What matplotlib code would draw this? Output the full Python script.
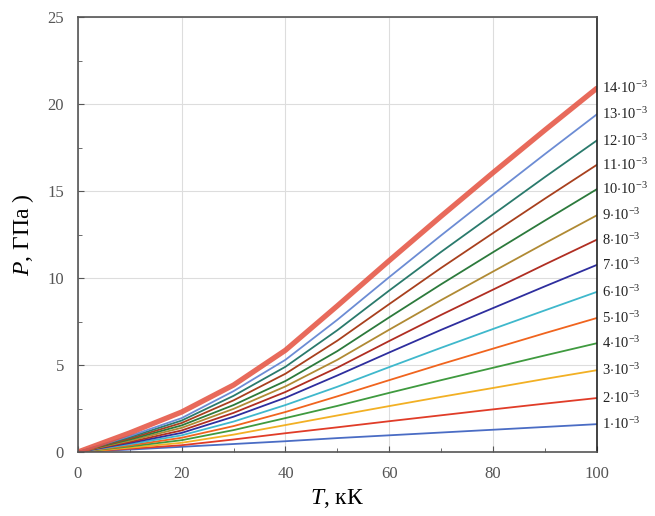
import matplotlib
matplotlib.use("Agg")
import matplotlib.pyplot as plt
from matplotlib.ticker import MultipleLocator

plt.rcParams['font.family'] = ['Liberation Serif', 'DejaVu Serif']
plt.rcParams['mathtext.fontset'] = 'custom'
plt.rcParams['mathtext.rm'] = 'Liberation Serif'
plt.rcParams['mathtext.it'] = 'Liberation Serif:italic'

# температура, кК
T = [0, 10, 20, 30, 40, 50, 60, 70, 80, 90, 100]

# давление, ГПа, для каждой плотности (1..14 * 10^-3)
p1 = [0, 0.14, 0.30, 0.46, 0.62, 0.80, 0.96, 1.12, 1.28, 1.44, 1.6]
p2 = [0, 0.19, 0.39, 0.72, 1.08, 1.42, 1.77, 2.11, 2.45, 2.78, 3.1]
p3 = [0, 0.25, 0.53, 1.00, 1.55, 2.10, 2.64, 3.17, 3.68, 4.20, 4.7]
p4 = [0, 0.32, 0.68, 1.26, 1.95, 2.65, 3.40, 4.13, 4.84, 5.55, 6.25]
p5 = [0, 0.38, 0.82, 1.49, 2.30, 3.20, 4.13, 5.05, 5.94, 6.83, 7.7]
p6 = [0, 0.45, 0.96, 1.75, 2.70, 3.75, 4.88, 5.99, 7.07, 8.14, 9.2]
p7 = [0, 0.52, 1.10, 2.03, 3.12, 4.40, 5.72, 7.02, 8.27, 9.52, 10.75]
p8 = [0, 0.58, 1.24, 2.25, 3.45, 4.85, 6.38, 7.88, 9.33, 10.78, 12.2]
p9 = [0, 0.65, 1.39, 2.48, 3.77, 5.30, 7.03, 8.73, 10.37, 12.00, 13.6]
p10 = [0, 0.72, 1.53, 2.70, 4.08, 5.80, 7.74, 9.64, 11.48, 13.30, 15.1]
p11 = [0, 0.78, 1.67, 2.97, 4.50, 6.40, 8.50, 10.58, 12.58, 14.56, 16.5]
p12 = [0, 0.85, 1.81, 3.23, 4.90, 7.00, 9.28, 11.50, 13.65, 15.80, 17.9]
p13 = [0, 0.92, 1.95, 3.50, 5.30, 7.60, 10.05, 12.45, 14.80, 17.12, 19.4]
p14 = [0, 1.10, 2.30, 3.85, 5.85, 8.40, 11.00, 13.55, 16.05, 18.50, 20.9]

series = [p1, p2, p3, p4, p5, p6, p7, p8, p9, p10, p11, p12, p13, p14]
labels = [r'%d$\cdot$10$^{-3}$' % k for k in range(1, 15)]
colors = ['#4a6cc4', '#e03c28', '#f2b024', '#3f9a3f', '#f0641e', '#3fb8cc',
          '#2e2e9e', '#b02e22', '#b08a34', '#2c7a3c', '#a8401e', '#2a7a6c',
          '#6c8cd4', '#e4503e']

fig = plt.figure(figsize=(6.55, 5.16), dpi=100)
ax = fig.add_axes([0.119, 0.124, 0.792, 0.843])

for i, p in enumerate(series):
    if i == 13:
        ax.plot(T, p, color=colors[i], lw=3.8, alpha=0.85, solid_capstyle='round')
    else:
        ax.plot(T, p, color=colors[i], lw=1.3)
    ax.text(101.0, p[-1], labels[i], fontsize=10.5, va='center', ha='left',
            color='#222222', clip_on=False)

ax.set_xlim(0, 100)
ax.set_ylim(0, 25)
ax.xaxis.set_major_locator(MultipleLocator(20))
ax.xaxis.set_minor_locator(MultipleLocator(10))
ax.yaxis.set_major_locator(MultipleLocator(5))
ax.yaxis.set_minor_locator(MultipleLocator(2.5))
ax.tick_params(which='both', direction='in', colors='#555555', labelsize=12)
ax.tick_params(which='major', length=4, pad=10)
ax.tick_params(which='minor', length=3)
ax.grid(True, which='major', color='#dddddd', lw=0.8)
ax.set_axisbelow(True)
for s in ax.spines.values():
    s.set_color('#555555')
    s.set_linewidth(1.2)
ax.spines['right'].set_color('#222222')

ax.set_xlabel(r'$T$, кК', fontsize=17, labelpad=4)
ax.set_ylabel(r'$P$, ГПа )', fontsize=17, labelpad=8)

fig.savefig('out.png', dpi=100)
